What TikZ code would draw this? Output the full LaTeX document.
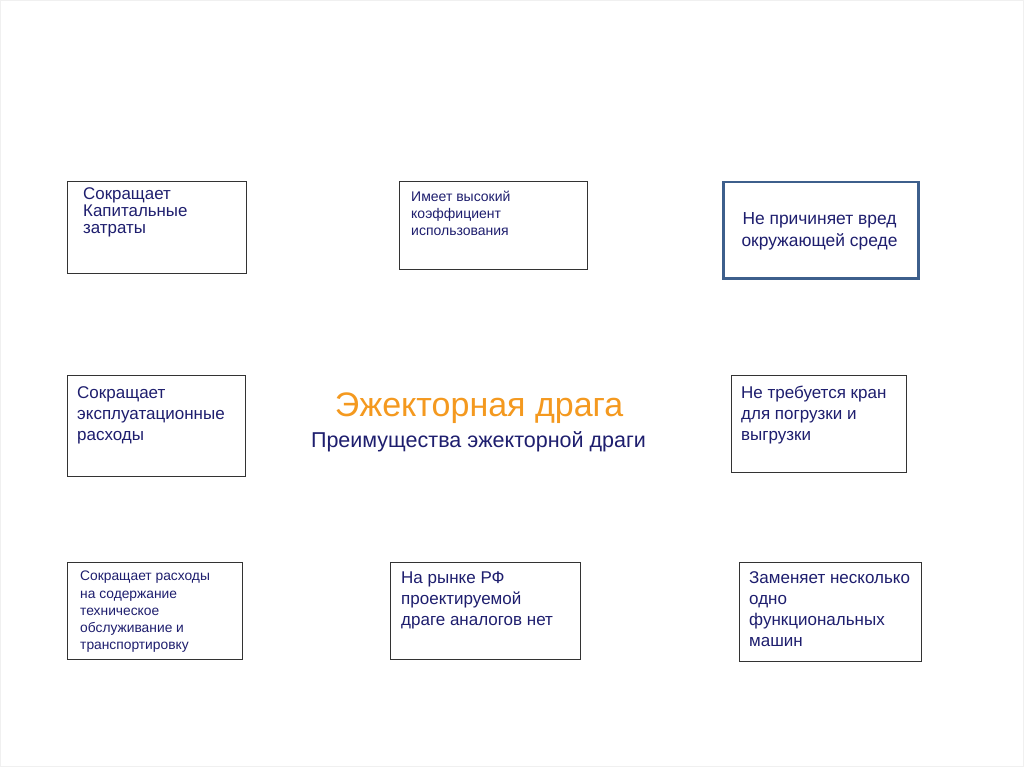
\documentclass[tikz,border=0pt]{standalone}
\usepackage{fontspec}
\setmainfont{Liberation Sans}
\definecolor{navy}{HTML}{1E1E6E}
\definecolor{frame}{HTML}{333333}
\definecolor{bluebd}{HTML}{3D5F8C}
\definecolor{orng}{HTML}{F4991F}
\begin{document}
\begin{tikzpicture}[x=1pt,y=-1pt,
  box/.style={draw=frame,line width=1pt,fill=white,anchor=north west,inner sep=0pt},
  txt/.style={text=navy,align=left,anchor=north west,inner sep=0pt},
  ctxt/.style={text=navy,align=center,anchor=north,inner sep=0pt}]
\path[draw=black!6,fill=white] (0.5,0.5) rectangle (1023.5,766.5);
\useasboundingbox (0,0) rectangle (1024,767);
% boxes
\node[box,minimum width=179,minimum height=92] (b1) at (67,181) {};
\node[box,minimum width=188,minimum height=88] (b2) at (399,181) {};
\node[box,draw=bluebd,line width=2.5pt,minimum width=195,minimum height=96] (b3) at (722,181) {};
\node[box,minimum width=178,minimum height=101] (b4) at (67,375) {};
\node[box,minimum width=175,minimum height=97] (b5) at (731,375) {};
\node[box,minimum width=175,minimum height=97] (b6) at (67,562) {};
\node[box,minimum width=190,minimum height=97] (b7) at (390,562) {};
\node[box,minimum width=182,minimum height=99] (b8) at (739,562) {};
% texts
\node[txt,font=\fontsize{16.9}{17}\selectfont] (t1) at (83,187) {Сокращает\\Капитальные\\затраты};
\node[txt,font=\fontsize{14}{17}\selectfont] (t2) at (411,191) {Имеет высокий\\коэффициент\\использования};
\node[ctxt,font=\fontsize{17.4}{22}\selectfont] (t3) at (819.5,212) {Не причиняет вред\\окружающей среде};
\node[txt,font=\fontsize{17}{21}\selectfont] (t4) at (77,386) {Сокращает\\эксплуатационные\\расходы};
\node[txt,font=\fontsize{17}{21}\selectfont] (t5) at (741,386) {Не требуется кран\\для погрузки и\\выгрузки};
\node[txt,font=\fontsize{13.8}{17.2}\selectfont] (t6) at (80,571) {Сокращает расходы\\на содержание\\техническое\\обслуживание и\\транспортировку};
\node[txt,font=\fontsize{17}{21}\selectfont] (t7) at (401,572) {На рынке РФ\\проектируемой\\драге аналогов нет};
\node[txt,font=\fontsize{17}{21}\selectfont] (t8) at (749,571) {Заменяет несколько\\одно\\функциональных\\машин};
% title
\node[anchor=base,inner sep=0pt,text=orng,font=\fontsize{34}{38}\selectfont] (title) at (479,416) {Эжекторная драга};
\node[anchor=base,inner sep=0pt,text=navy,font=\fontsize{21.5}{25}\selectfont] (sub) at (478.5,447) {Преимущества эжекторной драги};
\end{tikzpicture}
\end{document}
